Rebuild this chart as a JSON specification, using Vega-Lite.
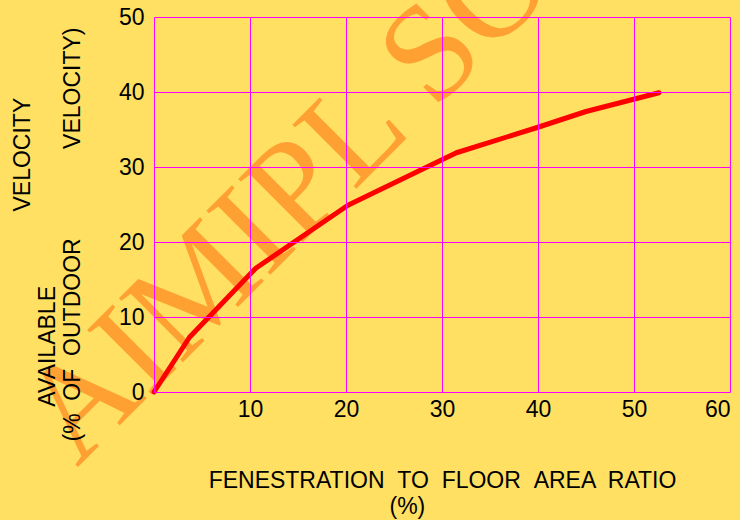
{
  "$schema": "https://vega.github.io/schema/vega-lite/v6.json",
  "width": 576,
  "height": 375,
  "autosize": {"type": "none"},
  "padding": {"left": 154, "top": 17, "right": 10, "bottom": 128},
  "background": "#FFE062",
  "config": {"view": {"stroke": null}},
  "layer": [
    {
      "data": {"values": [{"mark_text": "AIMIPL SO"}]},
      "mark": {"type": "text", "font": "Liberation Serif", "fontSize": 138, "color": "#FFA033", "angle": 315, "align": "left", "baseline": "alphabetic", "clip": false},
      "encoding": {
        "text": {"field": "mark_text"},
        "x": {"datum": -8.02, "type": "quantitative", "scale": {"domain": [0, 60], "nice": false}},
        "y": {"datum": -10.13, "type": "quantitative", "scale": {"domain": [0, 50], "nice": false}}
      }
    },
    {
      "data": {"values": [
        {"ratio": 0, "velocity": 0},
        {"ratio": 3.7, "velocity": 7.3},
        {"ratio": 10.6, "velocity": 16.5},
        {"ratio": 20.2, "velocity": 24.9},
        {"ratio": 31.5, "velocity": 31.9},
        {"ratio": 40, "velocity": 35.3},
        {"ratio": 45, "velocity": 37.4},
        {"ratio": 52.6, "velocity": 39.9}
      ]},
      "mark": {"type": "line", "color": "#FF0000", "strokeWidth": 5, "strokeCap": "round", "strokeJoin": "round"},
      "encoding": {
        "x": {
          "field": "ratio", "type": "quantitative",
          "scale": {"domain": [0, 60], "nice": false},
          "axis": {
            "values": [0, 10, 20, 30, 40, 50, 60],
            "labelExpr": "datum.value == 0 ? '' : datum.label",
            "grid": true, "gridColor": "#FF00FF", "gridWidth": 1, "gridOpacity": 1,
            "domain": false, "ticks": false,
            "labelFont": "Liberation Sans", "labelFontSize": 23, "labelColor": "#000000",
            "labelPadding": 6, "labelBaseline": "top", "labelFlush": true, "labelOverlap": false,
            "title": ["FENESTRATION \u00a0TO \u00a0FLOOR \u00a0AREA \u00a0RATIO", "(%)\u00a0\u00a0\u00a0\u00a0\u00a0\u00a0\u00a0\u00a0\u00a0\u00a0\u00a0\u200b"],
            "titleFont": "Liberation Sans", "titleFontSize": 23, "titleFontWeight": "normal", "titleColor": "#000000",
            "titleBaseline": "alphabetic", "titleAlign": "center", "titleY": 95, "titleLineHeight": 26,
            "zindex": 1
          }
        },
        "y": {
          "field": "velocity", "type": "quantitative",
          "scale": {"domain": [0, 50], "nice": false},
          "axis": {
            "values": [0, 10, 20, 30, 40, 50],
            "grid": true, "gridColor": "#FF00FF", "gridWidth": 1, "gridOpacity": 1,
            "domain": false, "ticks": false,
            "labelFont": "Liberation Sans", "labelFontSize": 23, "labelColor": "#000000",
            "labelPadding": 10, "labelFlush": false, "labelOverlap": false,
            "title": [
              "\u200b\u00a0\u00a0\u00a0\u00a0\u00a0\u00a0\u00a0\u00a0\u00a0\u00a0\u00a0\u00a0\u00a0\u00a0\u00a0\u00a0\u00a0\u00a0\u00a0\u00a0\u00a0\u00a0\u00a0\u00a0\u00a0VELOCITY",
              "AVAILABLE\u00a0\u00a0\u00a0\u00a0\u00a0\u00a0\u00a0\u00a0\u00a0\u00a0\u00a0\u00a0\u00a0\u00a0\u00a0\u00a0\u00a0\u00a0\u00a0\u00a0\u00a0\u00a0\u00a0\u00a0\u00a0\u00a0\u00a0\u00a0\u00a0\u00a0\u00a0\u00a0\u00a0\u00a0\u00a0\u200b",
              "(%\u00a0 OF\u00a0 OUTDOOR \u00a0\u00a0\u00a0\u00a0\u00a0\u00a0\u00a0\u00a0\u00a0\u00a0\u00a0\u00a0\u00a0VELOCITY)"
            ],
            "titleFont": "Liberation Sans", "titleFontSize": 23, "titleFontWeight": "normal", "titleColor": "#000000",
            "titleAngle": 270, "titleAlign": "center", "titleBaseline": "top",
            "titleX": -142.5, "titleY": 217, "titleLineHeight": 25,
            "zindex": 1
          }
        }
      }
    }
  ]
}
